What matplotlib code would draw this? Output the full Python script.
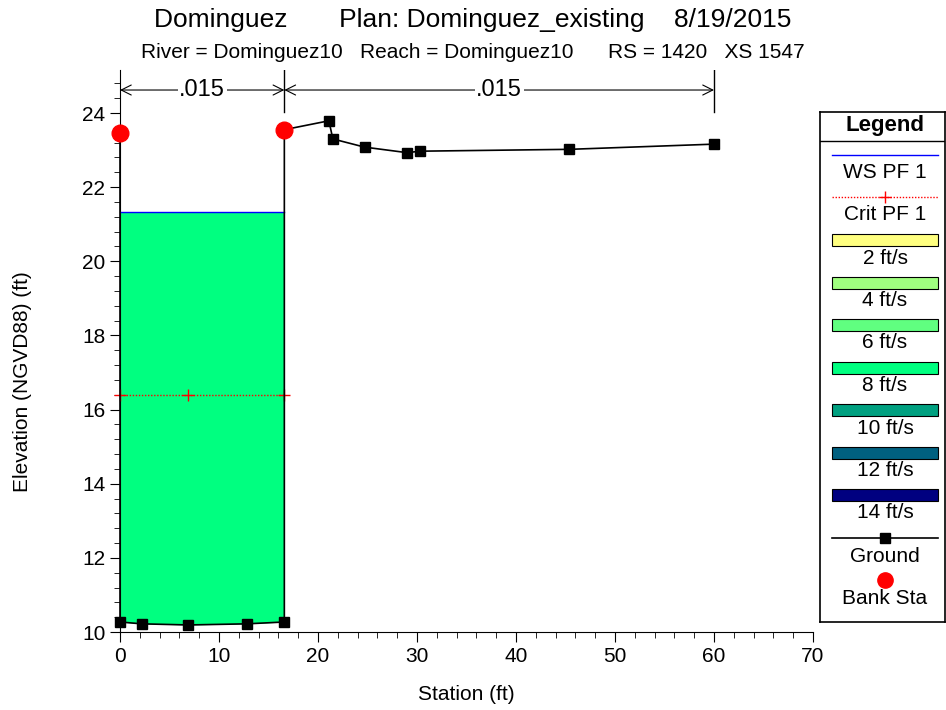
#!/usr/bin/env python

import matplotlib
matplotlib.use('Agg')
import matplotlib.pyplot as plt
from matplotlib.ticker import MultipleLocator
from matplotlib.patches import Rectangle

plt.rcParams['font.family'] = ['Liberation Sans', 'DejaVu Sans']

# ----------------------------------------------------------------------
# Data read off the cross section
# ----------------------------------------------------------------------

ground_x = [0.0, 0.0, 2.2, 6.9, 12.8, 16.6, 16.6, 21.1, 21.5, 24.7,
            29.0, 30.3, 45.4, 60.0]
ground_y = [23.46, 10.27, 10.22, 10.19, 10.22, 10.27, 23.55, 23.79, 23.30,
            23.08, 22.93, 22.97, 23.02, 23.16]

bank_x = [0.0, 16.6]
bank_y = [23.46, 23.55]

ws_elev = 21.33
crit_x = [0.0, 6.9, 16.6]
crit_elev = 16.39

n_breaks = [0.0, 16.6, 60.0]
n_values = ['.015', '.015']
n_elev = 24.62

legend_bars = ['2 ft/s', '4 ft/s', '6 ft/s', '8 ft/s',
               '10 ft/s', '12 ft/s', '14 ft/s']
bar_colors = ['#ffff80', '#a0ff80', '#60ff80', '#00ff80',
              '#00a080', '#006080', '#000080']

# ----------------------------------------------------------------------
# Main plot
# ----------------------------------------------------------------------

fig = plt.figure(figsize=(9.46, 7.1), dpi=100)
ax = fig.add_axes([120/946, 1 - 632/710, 693/946, 562/710])

# wetted area (between ground and water surface in the channel)
ch_x = ground_x[1:6]
ch_y = ground_y[1:6]
ax.fill_between(ch_x, ch_y, ws_elev, color='#00ff80', lw=0, zorder=1)

ax.plot([ground_x[1], ground_x[5]], [ws_elev, ws_elev], c='blue', lw=1,
        zorder=3)
ax.plot([crit_x[0], crit_x[-1]], [crit_elev, crit_elev], c='red', lw=1,
        ls=(0, (1, 1.2)), zorder=3)
ax.plot(crit_x, [crit_elev] * len(crit_x), ls='none', marker='+', c='red',
        ms=9, mew=1, zorder=3, clip_on=False)

ax.plot(ground_x, ground_y, c='black', lw=1.2, marker='s', ms=7, zorder=4,
        clip_on=False)
ax.plot(bank_x, bank_y, ls='none', marker='o', c='red', ms=12, zorder=5,
        clip_on=False)

# manning's n brackets
ylo, yhi = 10, 25.16
for xb in n_breaks[1:]:
    ax.plot([xb, xb], [24.03, yhi], c='black', lw=1, zorder=2)
for i, nv in enumerate(n_values):
    x0, x1 = n_breaks[i], n_breaks[i + 1]
    ax.annotate('', xy=(x0, n_elev), xytext=(x1, n_elev),
                arrowprops=dict(arrowstyle='<->', lw=0.8, color='black',
                                shrinkA=0, shrinkB=0,
                                mutation_scale=18))
    ax.text((x0 + x1) / 2, n_elev, nv, ha='center', va='center',
            fontsize=17, bbox=dict(fc='white', ec='none', pad=1))

ax.set_xlim(0, 70)
ax.set_ylim(ylo, yhi)
ax.xaxis.set_major_locator(MultipleLocator(10))
ax.xaxis.set_minor_locator(MultipleLocator(2))
ax.yaxis.set_major_locator(MultipleLocator(2))
ax.yaxis.set_minor_locator(MultipleLocator(0.4))
ax.tick_params(which='major', length=7, labelsize=15)
ax.tick_params(which='minor', length=4)
ax.spines['top'].set_visible(False)
ax.spines['right'].set_visible(False)

ax.set_xlabel('Station (ft)', fontsize=15, va='center')
ax.xaxis.set_label_coords(0.5, -0.112)
ax.set_ylabel('Elevation (NGVD88) (ft)', fontsize=15, va='center')
ax.yaxis.set_label_coords(-0.141, 0.445)

fig.text(0.5, 1 - 20/710,
         'Dominguez       Plan: Dominguez_existing    8/19/2015',
         ha='center', va='center', fontsize=19)
fig.text(0.5, 1 - 52/710,
         'River = Dominguez10   Reach = Dominguez10      RS = 1420   XS 1547',
         ha='center', va='center', fontsize=15)

# ----------------------------------------------------------------------
# Legend panel (pixel coordinates)
# ----------------------------------------------------------------------

lg = fig.add_axes([820/946, 1 - 622/710, 125/946, 510/710])
lg.set_xlim(820, 945)
lg.set_ylim(622, 112)
lg.set_xticks([])
lg.set_yticks([])
for s in lg.spines.values():
    s.set_linewidth(1.2)

fs = 15
cx = 885
lg.text(cx, 125, 'Legend', ha='center', va='center', fontsize=16,
        fontweight='bold')
lg.plot([820, 945], [141, 141], c='black', lw=1)

lg.plot([832, 938], [155, 155], c='blue', lw=1)
lg.text(cx, 172, 'WS PF 1', ha='center', va='center', fontsize=fs)
lg.plot([832, 938], [197, 197], c='red', lw=1, ls=(0, (1, 1.2)))
lg.plot([cx], [197], marker='+', c='red', ms=9)
lg.text(cx, 214, 'Crit PF 1', ha='center', va='center', fontsize=fs)

for i, (lab, col) in enumerate(zip(legend_bars, bar_colors)):
    yc = 240 + i * 42.5
    lg.add_patch(Rectangle((832, yc - 6), 106, 12, fc=col, ec='black',
                           lw=0.8))
    lg.text(cx, yc + 18, lab, ha='center', va='center', fontsize=fs)

lg.plot([832, 938], [538, 538], c='black', lw=1.2)
lg.plot([cx], [538], marker='s', c='black', ms=7)
lg.text(cx, 556, 'Ground', ha='center', va='center', fontsize=fs)
lg.plot([cx], [580], marker='o', c='red', ms=11)
lg.text(cx, 599, 'Bank Sta', ha='center', va='center', fontsize=fs)

plt.savefig('out.png', dpi=100)
plt.close()
